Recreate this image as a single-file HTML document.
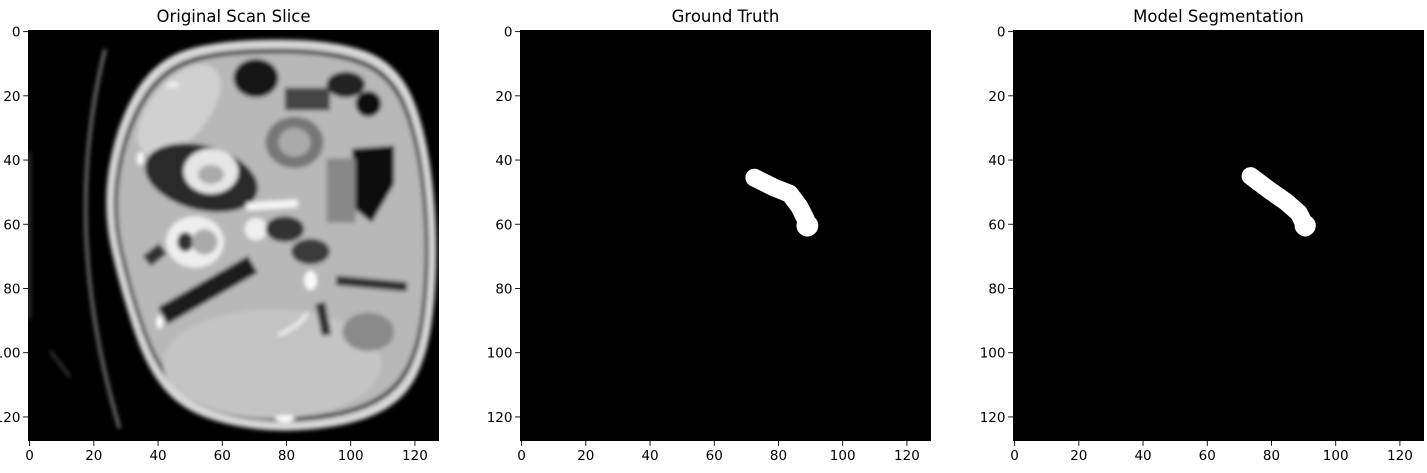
<!DOCTYPE html>
<html><head><meta charset="utf-8"><style>
body{margin:0;background:#fff;width:1427px;height:468px;overflow:hidden;font-family:"Liberation Sans","DejaVu Sans",sans-serif}
svg text{font-family:"DejaVu Sans","Liberation Sans",sans-serif;font-size:13.5px;fill:#000}
</style></head><body>
<svg id="fig" width="1427" height="468" xmlns="http://www.w3.org/2000/svg">
<defs>
<filter id="bl" x="-10%" y="-10%" width="120%" height="120%"><feGaussianBlur stdDeviation="0.7"/></filter>
<clipPath id="cp"><rect x="0" y="0" width="128" height="128"/></clipPath>
</defs>
</svg>
<script>
const panelTitles = ["Original Scan Slice", "Ground Truth", "Model Segmentation"];
const tickValues = [0, 20, 40, 60, 80, 100, 120];
const gtCenterline = [[73,46],[79,49],[84,51],[87,55],[89,59],[89.5,61.5]];
const predCenterline = [[74,45.5],[80,50],[85,53.5],[89,57],[90.5,60],[91,61.5]];
const gtWidth = [5.6];
const predWidth = [5.6];
const gtEndRadius = [3.4];
const predEndRadius = [3.3];

const NS = "http://www.w3.org/2000/svg";
const fig = document.getElementById('fig');
const lefts = [28, 520, 1013];
const top0 = 30, size = 411, N = 128;
const sc = size / N;
function mk(tag, attrs, parent){const e=document.createElementNS(NS,tag);for(const k in attrs)e.setAttribute(k,attrs[k]);parent.appendChild(e);return e;}
function px(v, L){return L + (v + 0.5) * sc;}
function py(v){return top0 + (v + 0.5) * sc;}

function smooth(pts){
  let d='';const n=pts.length;
  for(let i=0;i<n;i++){const a=pts[i],b=pts[(i+1)%n];const m=[(a[0]+b[0])/2,(a[1]+b[1])/2];
    if(i===0){const z=pts[n-1];d+='M'+((z[0]+a[0])/2)+','+((z[1]+a[1])/2);}
    d+=' Q'+a[0]+','+a[1]+' '+m[0]+','+m[1];}
  return d+'Z';
}
function drawCT(g){
  mk('rect',{x:0,y:0,width:128,height:128,fill:'#000'},g);
  const b = mk('g',{filter:'url(#bl)'},g);
  mk('path',{d:'M24,6 Q10,62 28.5,124',stroke:'#888',fill:'none','stroke-width':0.9},b);
  mk('path',{d:'M0.5,38 L0.5,90',stroke:'#555',fill:'none','stroke-width':0.6},b);
  mk('path',{d:'M7,100 L13,108',stroke:'#555',fill:'none','stroke-width':0.6},b);
  const outer=[[60,3],[96,3],[116,11],[125,35],[128,72],[124,106],[110,121],[80,126],[52,121],[38,108],[29,82],[23,55],[28,28],[40,9]];
  const ctr=[76,64];
  const shrink=(k)=>outer.map(p=>[ctr[0]+(p[0]-ctr[0])*k,ctr[1]+(p[1]-ctr[1])*k]);
  mk('path',{d:smooth(outer),fill:'#d8d8d8'},b);
  mk('path',{d:smooth(shrink(0.955)),fill:'#4a4a4a'},b);
  mk('path',{d:smooth(shrink(0.93)),fill:'#b8b8b8'},b);
  mk('ellipse',{cx:47,cy:25,rx:9,ry:17,transform:'rotate(40 47 25)',fill:'#d0d0d0'},b);
  mk('ellipse',{cx:71,cy:15,rx:7,ry:6,fill:'#151515'},b);
  mk('ellipse',{cx:99,cy:17,rx:6,ry:4,fill:'#222'},b);
  mk('ellipse',{cx:106,cy:23,rx:4,ry:4,fill:'#111'},b);
  mk('rect',{x:80,y:18,width:14,height:7,fill:'#444'},b);
  mk('ellipse',{cx:83,cy:35,rx:9,ry:8,fill:'#777'},b);
  mk('ellipse',{cx:83,cy:35,rx:5,ry:4.5,fill:'#aaa'},b);
  mk('ellipse',{cx:54,cy:46,rx:18,ry:10,transform:'rotate(15 54 46)',fill:'#2a2a2a'},b);
  mk('ellipse',{cx:57,cy:44,rx:8.5,ry:7,fill:'#e6e6e6'},b);
  mk('ellipse',{cx:57,cy:45,rx:4,ry:3,fill:'#aaa'},b);
  mk('polygon',{points:'101,37 114,36 114,48 107,60 101,55',fill:'#0a0a0a'},b);
  mk('rect',{x:93,y:40,width:9,height:20,fill:'#888'},b);
  mk('ellipse',{cx:52,cy:66,rx:9,ry:8,fill:'#eee'},b);
  mk('ellipse',{cx:49,cy:66,rx:2.5,ry:3,fill:'#333'},b);
  mk('ellipse',{cx:55,cy:66,rx:4,ry:4,fill:'#aaa'},b);
  mk('ellipse',{cx:71,cy:62,rx:3.5,ry:3.5,fill:'#f0f0f0'},b);
  mk('path',{d:'M68,55 L84,54',stroke:'#f4f4f4','stroke-width':2.5,fill:'none'},b);
  mk('ellipse',{cx:80,cy:62,rx:6,ry:4,fill:'#333'},b);
  mk('ellipse',{cx:88,cy:69,rx:6,ry:4,fill:'#3a3a3a'},b);
  mk('ellipse',{cx:88,cy:78,rx:2,ry:3,fill:'#fafafa'},b);
  mk('path',{d:'M42,89 L70,73',stroke:'#1e1e1e','stroke-width':6,fill:'none'},b);
  mk('path',{d:'M42,68 L37,72',stroke:'#333','stroke-width':4,fill:'none'},b);
  mk('ellipse',{cx:76,cy:104,rx:34,ry:17,fill:'#c4c4c4'},b);
  mk('ellipse',{cx:106,cy:94,rx:8,ry:6,fill:'#8a8a8a'},b);
  mk('path',{d:'M96,78 L118,80',stroke:'#333','stroke-width':3,fill:'none'},b);
  mk('path',{d:'M91,85 L93,95',stroke:'#333','stroke-width':3,fill:'none'},b);
  mk('path',{d:'M78,95 Q85,92 87,88',stroke:'#eee','stroke-width':1.2,fill:'none'},b);
  mk('ellipse',{cx:35,cy:40,rx:1,ry:2,fill:'#fff'},b);
  mk('ellipse',{cx:41,cy:91,rx:1,ry:2,fill:'#fff'},b);
  mk('ellipse',{cx:80,cy:121,rx:3,ry:1,fill:'#fff'},b);
  mk('ellipse',{cx:45,cy:17,rx:2,ry:1,fill:'#eee'},b);
}

function drawMask(g, pts, w, r){
  mk('rect',{x:0,y:0,width:128,height:128,fill:'#000'},g);
  const d = 'M' + pts.map(p=>p.join(',')).join(' L');
  const p = mk('path',{d:d,stroke:'#fff','stroke-width':w,'stroke-linecap':'round','stroke-linejoin':'round',fill:'none'},g);
  
  
  const last = pts[pts.length-1];
  const c = mk('circle',{cx:last[0],cy:last[1]-0.6,r:r,fill:'#fff'},g);
  
  
}

lefts.forEach((L,i)=>{
  const ax = mk('g',{},fig);
  
  
  const img = mk('g',{transform:`translate(${L},${top0}) scale(${sc})`,'clip-path':'url(#cp)'},ax);
  
  
  if(i===0) drawCT(img);
  else if(i===1) drawMask(img, gtCenterline, gtWidth[0], gtEndRadius[0]);
  else drawMask(img, predCenterline, predWidth[0], predEndRadius[0]);
  const t = mk('text',{x:L+size/2,y:22,'text-anchor':'middle'},ax);
  t.style.fontSize='16.5px';
  t.textContent = panelTitles[i];
  
  
  tickValues.forEach(v=>{
    const x = px(v,L), y = py(v);
    mk('line',{x1:x,x2:x,y1:top0+size,y2:top0+size+4.9,stroke:'#000','stroke-width':0.9},ax);
    const tx = mk('text',{x:x,y:top0+size+19,'text-anchor':'middle'},ax);
    tx.textContent = v;
    
    
    mk('line',{x1:L-4.9,x2:L,y1:y,y2:y,stroke:'#000','stroke-width':0.9},ax);
    const ty = mk('text',{x:L-7.5,y:y+5,'text-anchor':'end'},ax);
    ty.textContent = v;
    
    
  });
});
</script>
</body></html>
